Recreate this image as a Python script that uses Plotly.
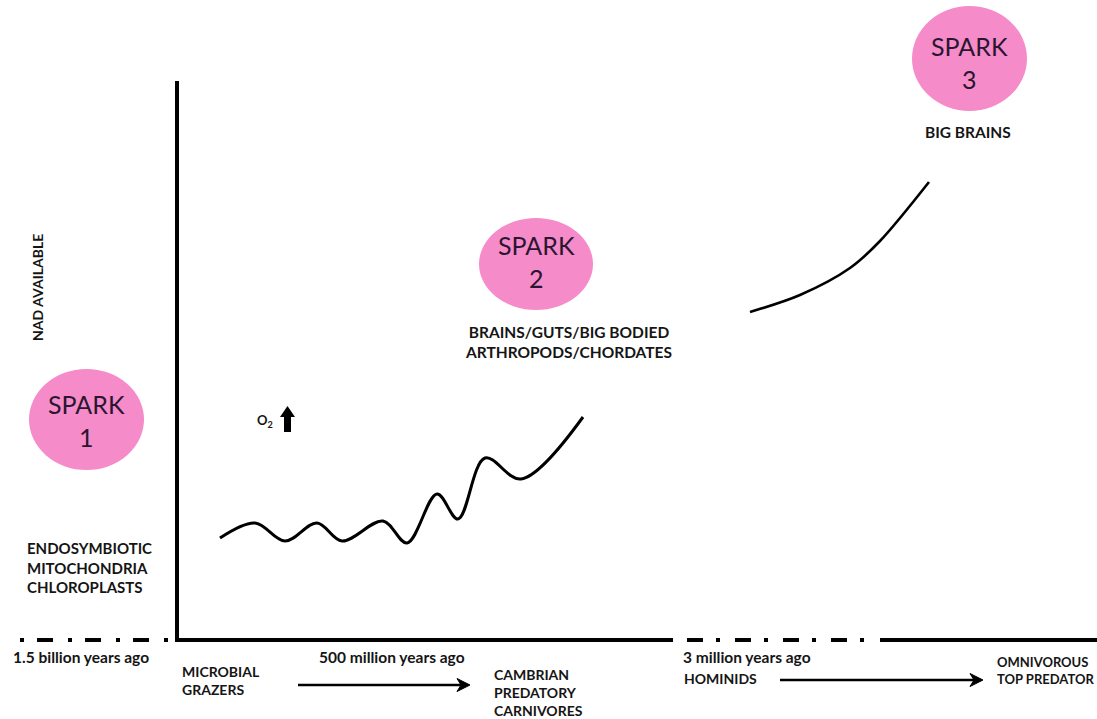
import plotly.graph_objects as go

# ---------------- data ----------------
# Curve 1: NAD available from ~1.5 billion to 500 million years ago (relative units)
era1_x = [43, 78, 108, 140, 165, 206, 230, 260, 281, 308, 344, 406]
era1_y = [102, 117, 99, 117, 99, 119, 97, 146, 121, 182, 161, 223]
# Curve 2: NAD available from ~3 million years ago to present (relative units)
era2_x = [573, 623, 673, 703, 752]
era2_y = [328, 345, 372, 399, 458]

spark_labels = ["SPARK<br>1", "SPARK<br>2", "SPARK<br>3"]
spark_notes = ["ENDOSYMBIOTIC<br>MITOCHONDRIA<br>CHLOROPLASTS",
               "BRAINS/GUTS/BIG BODIED<br>ARTHROPODS/CHORDATES",
               "BIG BRAINS"]
time_labels = ["1.5 billion years ago", "500 million years ago", "3 million years ago"]
stage_labels = ["MICROBIAL<br>GRAZERS", "CAMBRIAN<br>PREDATORY<br>CARNIVORES",
                "HOMINIDS", "OMNIVOROUS<br>TOP PREDATOR"]
y_label = "NAD AVAILABLE"

# ---------------- layout helpers (page pixel -> axis units) ----------------
W, H = 1097, 719
OX, OY = 177, 640


def X(px):
    return px - OX


def Y(py):
    return OY - py


FONT = "Lato"
DARK = "#151515"
SPARK_TXT = "#2a1630"
PINK = "#F68BC9"

fig = go.Figure()

fig.add_trace(go.Scatter(x=era1_x, y=era1_y, mode="lines",
                         line=dict(color="black", width=3, shape="spline", smoothing=1.0),
                         hoverinfo="skip"))
fig.add_trace(go.Scatter(x=era2_x, y=era2_y, mode="lines",
                         line=dict(color="black", width=2.6, shape="spline", smoothing=0.9),
                         hoverinfo="skip"))

shapes = []
# axes
shapes.append(dict(type="line", x0=X(177), x1=X(177), y0=Y(81), y1=Y(642),
                   line=dict(color="black", width=4)))
shapes.append(dict(type="line", x0=X(175), x1=X(673), y0=Y(640), y1=Y(640),
                   line=dict(color="black", width=4)))
shapes.append(dict(type="line", x0=X(880), x1=X(1097), y0=Y(640), y1=Y(640),
                   line=dict(color="black", width=4)))
# dash-dot time gaps
shapes.append(dict(type="line", x0=X(20), x1=X(170), y0=Y(640), y1=Y(640),
                   line=dict(color="black", width=4, dash="4px,13px,16px,15px")))
shapes.append(dict(type="line", x0=X(687), x1=X(866), y0=Y(640), y1=Y(640),
                   line=dict(color="black", width=4, dash="16px,13px,4px,15px")))

# spark ellipses
spark_boxes = [(29, 144, 369, 470), (479, 593, 218, 310), (912, 1027, 6, 111)]
for (l, r, t, b) in spark_boxes:
    shapes.append(dict(type="circle", x0=X(l), x1=X(r), y0=Y(b), y1=Y(t),
                       fillcolor=PINK, line=dict(width=0), layer="below"))


def poly(pts):
    return "M " + " L ".join(f"{X(a)},{Y(b)}" for a, b in pts) + " Z"


# O2 block arrow
shapes.append(dict(type="path",
                   path=poly([(284, 432), (291, 432), (291, 417), (295, 417),
                              (287.5, 406), (280, 417), (284, 417)]),
                   fillcolor="black", line=dict(width=0)))

# progression arrows (shaft + head)
for (x0, x1, yy) in [(298, 470, 685), (780, 983, 680)]:
    shapes.append(dict(type="line", x0=X(x0), x1=X(x1 - 6), y0=Y(yy), y1=Y(yy),
                       line=dict(color="black", width=2.6)))
    shapes.append(dict(type="path",
                       path=poly([(x1, yy), (x1 - 13, yy - 6.5), (x1 - 9, yy), (x1 - 13, yy + 6.5)]),
                       fillcolor="black", line=dict(color="black", width=1)))

ann = []


def txt(text, px, py, size, bold=True, color=DARK, xanchor="center", align="center", angle=0):
    t = f"<b>{text}</b>" if bold else text
    ann.append(dict(text=t, x=X(px), y=Y(py), xref="x", yref="y", showarrow=False,
                    xanchor=xanchor, yanchor="middle", align=align, textangle=angle,
                    font=dict(family=FONT, size=size, color=color)))


# spark labels
txt(spark_labels[0], 86.5, 420, 25, bold=False, color=SPARK_TXT)
txt(spark_labels[1], 536, 261, 25, bold=False, color=SPARK_TXT)
txt(spark_labels[2], 969.5, 62, 25, bold=False, color=SPARK_TXT)
# notes
txt(spark_notes[0], 25, 567, 15, xanchor="left", align="left")
txt(spark_notes[1], 568, 342, 15.5)
txt(spark_notes[2], 968, 132, 15.5)
# y label
txt(y_label, 37, 288, 14, angle=-90)
# O2
txt("O<sub>2</sub>", 265, 421, 13)
# times
txt(time_labels[0], 11, 657, 15.5, xanchor="left", align="left")
txt(time_labels[1], 317, 657, 15.5, xanchor="left", align="left")
txt(time_labels[2], 681, 657, 15.5, xanchor="left", align="left")
# stages
txt(stage_labels[0], 180, 680, 14, xanchor="left", align="left")
txt(stage_labels[1], 492, 692, 14, xanchor="left", align="left")
txt(stage_labels[2], 682, 678, 14, xanchor="left", align="left")
txt(stage_labels[3], 995, 670, 13, xanchor="left", align="left")

fig.update_layout(
    width=W, height=H,
    margin=dict(l=0, r=0, t=0, b=0),
    paper_bgcolor="white", plot_bgcolor="white",
    showlegend=False,
    xaxis=dict(range=[X(0), X(W)], visible=False, fixedrange=True),
    yaxis=dict(range=[Y(H), Y(0)], visible=False, fixedrange=True),
    shapes=shapes, annotations=ann,
)

fig.write_html("out.html", config={"displayModeBar": False},
               post_script="document.body.style.margin='0px';document.body.style.overflow='hidden';")
